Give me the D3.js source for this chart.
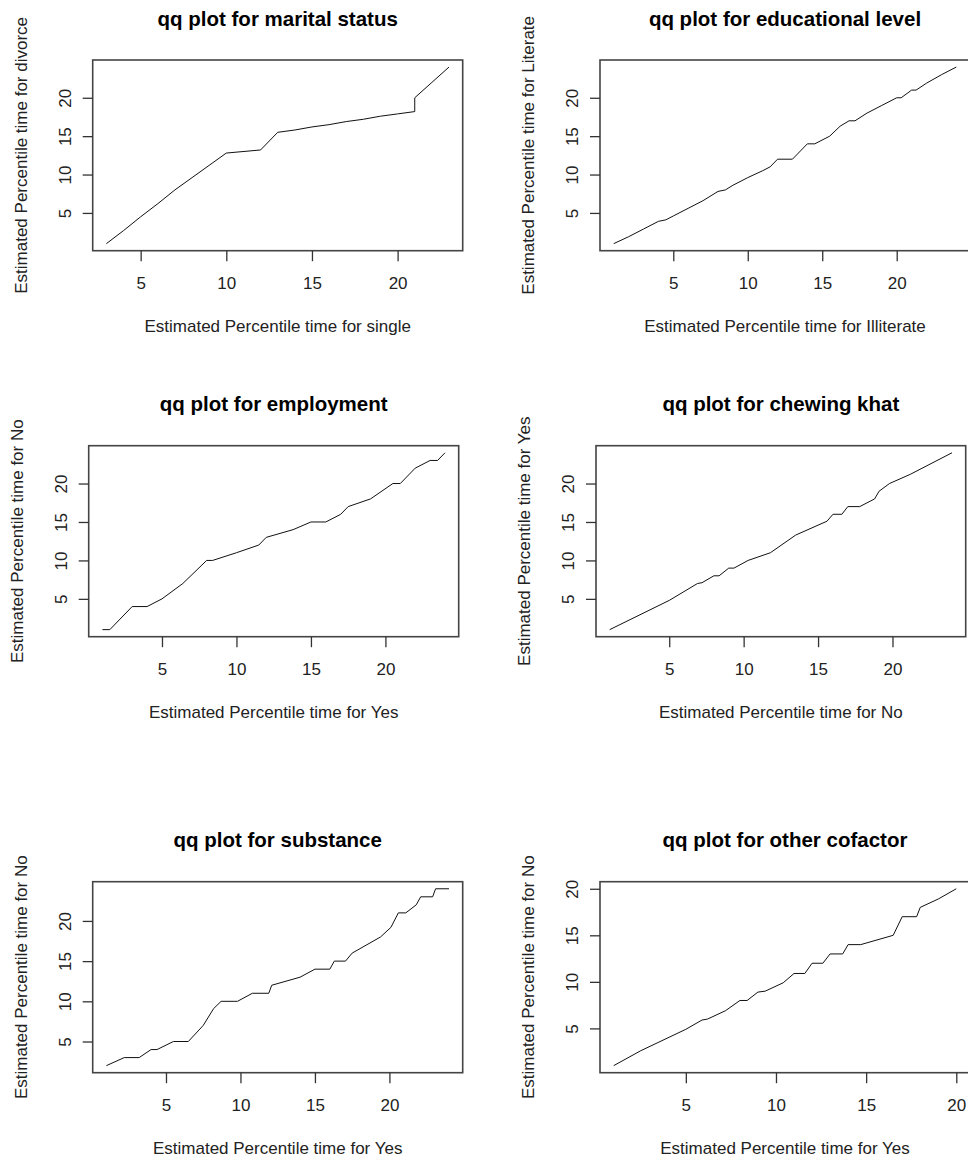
<!DOCTYPE html>
<html>
<head>
<meta charset="utf-8">
<script src="https://cdn.jsdelivr.net/npm/d3@7"></script>
<style>
  html, body { margin: 0; padding: 0; background: #fff; }
  svg { display: block; font-family: "Liberation Sans", Arial, sans-serif; }
</style>
</head>
<body>
<svg id="chart" width="968" height="1158"></svg>
<script>
// ---------- data ----------
const titles = [
  "qq plot for marital status",
  "qq plot for educational level",
  "qq plot for employment",
  "qq plot for chewing khat",
  "qq plot for substance",
  "qq plot for other cofactor"
];
const xLabels = [
  "Estimated Percentile time for single",
  "Estimated Percentile time for Illiterate",
  "Estimated Percentile time for Yes",
  "Estimated Percentile time for No",
  "Estimated Percentile time for Yes",
  "Estimated Percentile time for Yes"
];
const yLabels = [
  "Estimated Percentile time for divorce",
  "Estimated Percentile time for Literate",
  "Estimated Percentile time for No",
  "Estimated Percentile time for Yes",
  "Estimated Percentile time for No",
  "Estimated Percentile time for No"
];
const tickValues = [5, 10, 15, 20];

// marital status: single (x) vs divorce (y)
const maritalX = [3, 4, 5, 6, 7, 8, 9, 10, 12, 13, 14, 15, 16, 17, 18, 19, 20, 21, 21, 22, 23];
const maritalY = [1, 2.7, 4.5, 6.2, 8, 9.6, 11.2, 12.8, 13.2, 15.5, 15.8, 16.2, 16.5, 16.9, 17.2, 17.6, 17.9, 18.2, 20, 22, 24];

// educational level: Illiterate (x) vs Literate (y)
const eduX = [1, 2, 3, 4, 4.5, 5, 6, 7, 8, 8.5, 9, 10, 11, 11.5, 12, 13, 14, 14.5, 15.5, 16.2, 16.8, 17.2, 18, 19, 20, 20.3, 21, 21.3, 22, 23, 24];
const eduY = [1, 1.9, 2.9, 3.9, 4.1, 4.6, 5.6, 6.6, 7.8, 8, 8.6, 9.6, 10.5, 11, 12, 12, 14, 14, 15, 16.3, 17, 17, 18, 19, 20, 20, 21, 21, 21.9, 23, 24];

// employment: Yes (x) vs No (y)
const empX = [1, 1.5, 3, 4, 5, 6.4, 8, 8.4, 10, 11.5, 12, 13.8, 15, 16, 17, 17.5, 19, 20.5, 21, 22, 23, 23.5, 24];
const empY = [1, 1, 4, 4, 5, 7, 10, 10, 11, 12, 13, 14, 15, 15, 16, 17, 18, 20, 20, 22, 23, 23, 24];

// chewing khat: No (x) vs Yes (y)
const khatX = [1, 5, 6.9, 7.2, 8, 8.35, 9, 9.35, 10.3, 11.8, 13.5, 15.6, 16, 16.6, 17, 17.8, 18.8, 19.1, 19.8, 21.2, 24];
const khatY = [1, 4.8, 7, 7.1, 8, 8, 9, 9, 10, 11, 13.3, 15.1, 16, 16, 17, 17, 18, 19, 20, 21.2, 24];

// substance: Yes (x) vs No (y)
const subX = [1, 2.2, 3.2, 4, 4.4, 5.5, 6.5, 7.5, 8.2, 8.7, 9.8, 10.8, 11.9, 12.1, 14, 15, 16, 16.3, 17.05, 17.5, 19.4, 20.1, 20.6, 21.1, 21.8, 22.1, 22.9, 23.1, 24];
const subY = [2, 3, 3, 4, 4, 5, 5, 7, 9.1, 10, 10, 11, 11, 12, 13, 14, 14, 15, 15, 16, 18, 19.2, 21, 21, 22, 23, 23, 24, 24];

// other cofactor: Yes (x) vs No (y)
const othX = [1, 2.5, 5, 5.9, 6.2, 7.2, 8, 8.4, 9, 9.4, 10.4, 11, 11.6, 12, 12.6, 13, 13.7, 14, 14.7, 16.5, 17, 17.8, 18, 19, 20];
const othY = [1, 2.6, 4.9, 5.9, 6, 6.9, 8, 8, 8.9, 9, 9.9, 10.9, 10.9, 12, 12, 13, 13, 14, 14, 15, 17, 17, 18, 18.9, 20];

const seriesX = [maritalX, eduX, empX, khatX, subX, othX];
const seriesY = [maritalY, eduY, empY, khatY, subY, othY];

// ---------- layout ----------
const panels = [
  { left: 92.7, top: 60,    w: 370, h: 190.7 },
  { left: 600,  top: 60,    w: 370, h: 190.7 },
  { left: 88.7, top: 445.7, w: 370, h: 191 },
  { left: 596,  top: 445.7, w: 369.7, h: 191 },
  { left: 92.7, top: 881.7, w: 370, h: 191 },
  { left: 600,  top: 881.7, w: 370, h: 191 }
];

const svg = d3.select("#chart");
svg.append("rect").attr("width", 968).attr("height", 1158).attr("fill", "#fff");

// R-style padded domain (4% each side)
function rDomain(vals) {
  const [lo, hi] = d3.extent(vals);
  const pad = (hi - lo) * 0.04;
  return [lo - pad, hi + pad];
}

panels.forEach((p, i) => {
  const xs = seriesX[i], ys = seriesY[i];
  const pts = xs.map((x, k) => [x, ys[k]]);
  const x = d3.scaleLinear().domain(rDomain(xs)).range([0, p.w]);
  const y = d3.scaleLinear().domain(rDomain(ys)).range([p.h, 0]);

  const g = svg.append("g").attr("transform", `translate(${p.left},${p.top})`);

  // data line
  g.append("path")
    .datum(pts)
    .attr("fill", "none")
    .attr("stroke", "#111")
    .attr("stroke-width", 1)
    .attr("d", d3.line().x(d => x(d[0])).y(d => y(d[1])));

  // box
  g.append("rect")
    .attr("x", 0).attr("y", 0).attr("width", p.w).attr("height", p.h)
    .attr("fill", "none").attr("stroke", "#444").attr("stroke-width", 1.6);

  // x axis
  const xa = g.append("g").attr("transform", `translate(0,${p.h})`)
    .call(d3.axisBottom(x).tickValues(tickValues).tickSize(10.5).tickFormat(d3.format("d")));
  xa.select(".domain").remove();
  xa.selectAll(".tick line").attr("stroke", "#333").attr("stroke-width", 1.3);
  xa.selectAll(".tick text")
    .attr("y", 38).attr("dy", 0)
    .attr("font-size", 17).attr("fill", "#222")
    .attr("font-family", "Liberation Sans, Arial, sans-serif");

  // y axis
  const ya = g.append("g")
    .call(d3.axisLeft(y).tickValues(tickValues).tickSize(10).tickFormat(d3.format("d")));
  ya.select(".domain").remove();
  ya.selectAll(".tick line").attr("stroke", "#333").attr("stroke-width", 1.3);
  ya.selectAll(".tick text")
    .attr("transform", "rotate(-90)")
    .attr("x", 0).attr("y", -22).attr("dy", 0)
    .attr("text-anchor", "middle")
    .attr("font-size", 17).attr("fill", "#222")
    .attr("font-family", "Liberation Sans, Arial, sans-serif");

  // title
  g.append("text")
    .attr("x", p.w / 2).attr("y", -34.3)
    .attr("text-anchor", "middle")
    .attr("font-size", 20.5).attr("font-weight", "bold").attr("fill", "#000")
    .text(titles[i]);

  // x label
  g.append("text")
    .attr("x", p.w / 2).attr("y", p.h + 81)
    .attr("text-anchor", "middle")
    .attr("font-size", 17).attr("fill", "#222")
    .text(xLabels[i]);

  // y label
  g.append("text")
    .attr("transform", `translate(-66,${p.h / 2}) rotate(-90)`)
    .attr("text-anchor", "middle")
    .attr("font-size", 17).attr("fill", "#222")
    .text(yLabels[i]);
});
</script>
</body>
</html>
